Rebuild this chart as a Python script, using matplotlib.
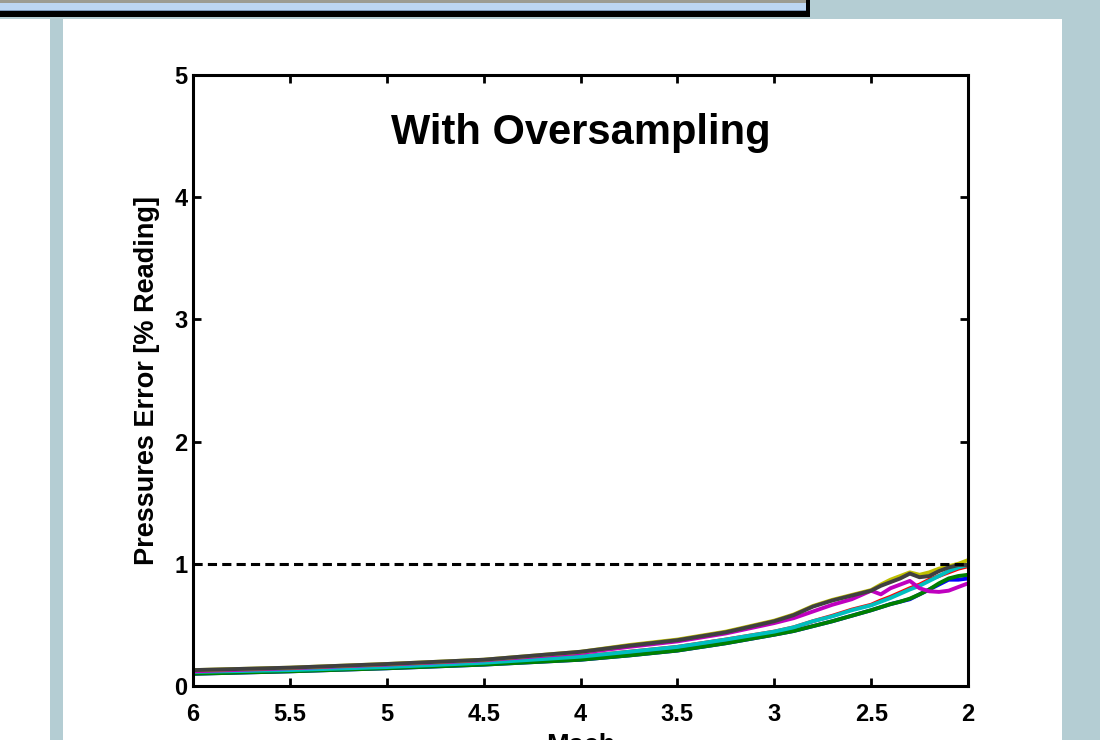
import matplotlib
matplotlib.use("Agg")
import matplotlib.pyplot as plt
from matplotlib.patches import Rectangle

# ---- data ----
mach = [6.0, 5.5, 5.0, 4.5, 4.0, 3.75, 3.5, 3.25, 3.0, 2.9, 2.8, 2.7, 2.6,
        2.5, 2.45, 2.4, 2.35, 2.3, 2.25, 2.2, 2.15, 2.1, 2.05, 2.0]
err_red = [0.115, 0.13, 0.155, 0.19, 0.24, 0.28, 0.32, 0.38, 0.445, 0.48, 0.53, 0.575,
           0.625, 0.665, 0.70, 0.73, 0.765, 0.80, 0.83, 0.87, 0.90, 0.93, 0.96, 0.98]
err_blue = [0.10, 0.12, 0.145, 0.175, 0.215, 0.25, 0.29, 0.35, 0.42, 0.45, 0.49, 0.53,
            0.575, 0.62, 0.645, 0.67, 0.69, 0.71, 0.75, 0.79, 0.83, 0.87, 0.87, 0.88]
err_green = [0.10, 0.12, 0.145, 0.175, 0.215, 0.25, 0.29, 0.35, 0.42, 0.45, 0.49, 0.53,
             0.575, 0.62, 0.645, 0.67, 0.69, 0.715, 0.75, 0.79, 0.84, 0.88, 0.90, 0.91]
err_cyan = [0.115, 0.13, 0.155, 0.19, 0.24, 0.28, 0.32, 0.38, 0.445, 0.48, 0.53, 0.57,
            0.62, 0.66, 0.69, 0.72, 0.755, 0.79, 0.82, 0.86, 0.90, 0.94, 0.97, 0.99]
err_magenta = [0.12, 0.145, 0.175, 0.21, 0.27, 0.32, 0.365, 0.43, 0.515, 0.555, 0.61, 0.665,
               0.71, 0.78, 0.75, 0.80, 0.83, 0.86, 0.80, 0.775, 0.77, 0.78, 0.81, 0.84]
err_yellow = [0.13, 0.15, 0.18, 0.215, 0.28, 0.335, 0.38, 0.445, 0.535, 0.585, 0.655, 0.705,
              0.745, 0.785, 0.83, 0.87, 0.90, 0.93, 0.91, 0.93, 0.96, 0.98, 1.00, 1.03]
err_gray = [0.13, 0.15, 0.18, 0.215, 0.28, 0.33, 0.375, 0.44, 0.53, 0.58, 0.65, 0.70,
            0.74, 0.78, 0.82, 0.85, 0.88, 0.92, 0.89, 0.90, 0.94, 0.97, 0.99, 0.99]
limit = 1.0
xticks = [6, 5.5, 5, 4.5, 4, 3.5, 3, 2.5, 2]
xticklabels = ["6", "5.5", "5", "4.5", "4", "3.5", "3", "2.5", "2"]
yticks = [0, 1, 2, 3, 4, 5]

W, H = 1100, 740
fig = plt.figure(figsize=(11, 7.4), dpi=100)
fig.patch.set_facecolor("#b4cdd3")
plt.rcParams['font.family'] = ['Liberation Sans', 'DejaVu Sans']

def px_rect(x0, y0, x1, y1, color):
    fig.patches.append(Rectangle((x0 / W, 1 - y1 / H), (x1 - x0) / W, (y1 - y0) / H,
                                 transform=fig.transFigure, facecolor=color,
                                 edgecolor='none', zorder=-10))

# background panels
px_rect(0, 19, 50, 740, "white")
px_rect(63, 19, 1062, 740, "white")
# top bar (window frame)
px_rect(0, 0, 810, 17, "#000000")
px_rect(0, 0, 806, 3, "#9c9c92")
px_rect(0, 3, 806, 10, "#bcd6f2")
px_rect(0, 10, 806, 11, "#7a96b8")

ax = fig.add_axes([193 / W, 1 - 686 / H, (968 - 193) / W, (686 - 75) / H])
ax.set_zorder(5)
ax.set_facecolor("white")

series = [(err_red, "#ff0000"), (err_blue, "#0000ff"), (err_green, "#008000"),
          (err_cyan, "#00bfbf"), (err_magenta, "#bf00bf"), (err_yellow, "#bfbf00"),
          (err_gray, "#404040")]
for vals, col in series:
    ax.plot(mach, vals, color=col, lw=2.8, solid_joinstyle='round')

ax.axhline(limit, color="black", lw=2.2, ls=(0, (3.0, 1.7)))

ax.set_xlim(6, 2)
ax.set_ylim(0, 5)
ax.set_xticks(xticks)
ax.set_xticklabels(xticklabels)
ax.set_yticks(yticks)
for s in ax.spines.values():
    s.set_linewidth(2.2)
ax.tick_params(direction='in', length=6, width=2, top=True, right=True,
               labelsize=17)
ax.tick_params(axis='x', pad=12)
ax.tick_params(axis='y', pad=4)
for lbl in ax.get_xticklabels() + ax.get_yticklabels():
    lbl.set_fontweight('bold')

ax.text(0.5, 0.905, "With Oversampling", transform=ax.transAxes, ha='center',
        va='center', fontsize=30, fontweight='bold')
ax.set_ylabel("Pressures Error [% Reading]", fontsize=19.5, fontweight='bold')
ax.yaxis.set_label_coords(-0.043, 0.5)
ax.set_xlabel("Mach", fontsize=19.5, fontweight='bold')
ax.xaxis.set_label_coords(0.5, -0.077)

fig.savefig("out.png", dpi=100, facecolor=fig.get_facecolor())
